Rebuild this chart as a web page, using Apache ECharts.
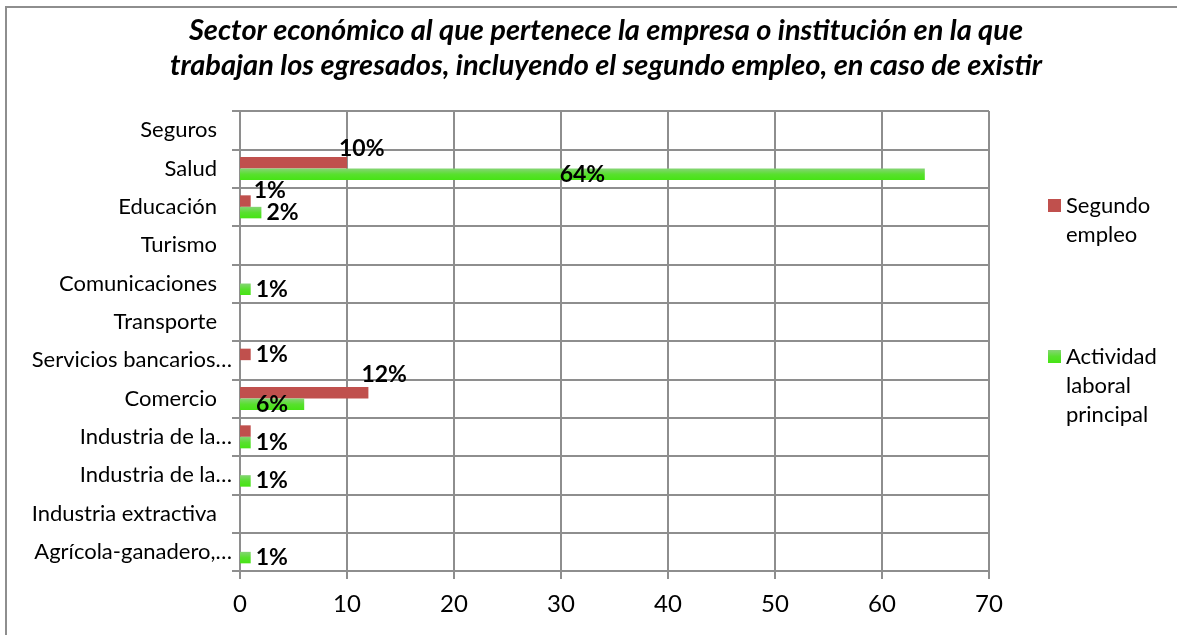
<!DOCTYPE html>
<html>
<head>
<meta charset="utf-8">
<script src="https://cdn.jsdelivr.net/npm/echarts@6/dist/echarts.min.js"></script>
<style>
html, body { margin: 0; padding: 0; background: #fff; }
#chart { width: 1177px; height: 635px; }
</style>
</head>
<body>
<div id="chart"></div>
<script>
// categorias de abajo hacia arriba, como en el grafico original
var sectores = ['Agrícola-ganadero,…', 'Industria extractiva', 'Industria de la…', 'Industria de la…',
  'Comercio', 'Servicios bancarios…', 'Transporte', 'Comunicaciones', 'Turismo', 'Educación', 'Salud', 'Seguros'];
var segundoEmpleo = [0, 0, 0, 1, 12, 1, 0, 0, 0, 1, 10, 0];
var actividadPrincipal = [1, 0, 1, 1, 6, 0, 0, 1, 0, 2, 64, 0];
var ejeX = [0, 10, 20, 30, 40, 50, 60, 70];

var FONT = 'Lato, "Open Sans", sans-serif';
var gris = '#8e8e8e';
var rojo = '#c0504d';
var verde = new echarts.graphic.LinearGradient(0, 0, 0, 1, [
  { offset: 0, color: '#86d476' },
  { offset: 0.5, color: '#58e02e' },
  { offset: 1, color: '#46e414' }
]);

// ajustes de etiquetas (imitan la colocacion manual de Excel)
var etiquetasRojo = {
  10: { position: 'right', offset: [-13, -14] },
  9: { position: 'right', offset: [-2, -11] },
  4: { position: 'right', offset: [-12, -18] },
  3: { show: false }
};
var etiquetasVerde = {
  10: { position: 'inside' },
  4: { position: 'inside' }
};

function armarDatos(valores, ajustes) {
  return valores.map(function (v, i) {
    if (!v) return '-';
    var item = { value: v };
    if (ajustes[i]) item.label = ajustes[i];
    return item;
  });
}

var etiqueta = {
  show: true,
  position: 'right',
  distance: 5,
  color: '#000',
  fontFamily: FONT,
  fontWeight: 'bold',
  fontSize: 23,
  formatter: function (p) { return p.value + '%'; }
};

// la primera linea del texto de leyenda queda a la altura del icono
function textoLeyenda(n) {
  var partes = n.split(' ');
  var relleno = [];
  for (var i = 1; i < partes.length; i++) relleno.push(' ');
  return relleno.concat(partes).join('\n');
}

var chart = echarts.init(document.getElementById('chart'));
chart.setOption({
  animation: false,
  backgroundColor: '#fff',
  title: {
    text: 'Sector económico al que pertenece la empresa o institución en la que\ntrabajan los egresados, incluyendo el segundo empleo, en caso de existir',
    left: 606,
    top: 13,
    padding: 0,
    textAlign: 'center',
    textStyle: {
      fontFamily: FONT,
      fontSize: 29,
      fontWeight: 'bold',
      fontStyle: 'italic',
      color: '#000',
      lineHeight: 35
    }
  },
  graphic: [{
    type: 'rect',
    shape: { x: 6, y: 7, width: 1300, height: 800 },
    style: { fill: 'none', stroke: gris, lineWidth: 2 },
    silent: true
  }],
  legend: [{
    data: ['Segundo empleo'],
    orient: 'vertical',
    left: 1048,
    top: 162,
    padding: 0,
    itemWidth: 13,
    itemHeight: 13,
    icon: 'rect',
    formatter: textoLeyenda,
    textStyle: { fontFamily: FONT, fontSize: 22, color: '#000', lineHeight: 29 }
  }, {
    data: ['Actividad laboral principal'],
    orient: 'vertical',
    left: 1048,
    top: 284,
    padding: 0,
    itemWidth: 13,
    itemHeight: 13,
    icon: 'rect',
    formatter: textoLeyenda,
    textStyle: { fontFamily: FONT, fontSize: 22, color: '#000', lineHeight: 29 }
  }],
  grid: { left: 240, right: 188, top: 111, bottom: 64, containLabel: false },
  xAxis: {
    type: 'value',
    min: ejeX[0],
    max: ejeX[ejeX.length - 1],
    interval: 10,
    axisLine: { show: true, lineStyle: { color: gris, width: 2 } },
    axisTick: { show: true, length: 8, lineStyle: { color: gris, width: 2 } },
    splitLine: { show: true, lineStyle: { color: gris, width: 2 } },
    axisLabel: { fontFamily: FONT, fontSize: 24, color: '#000', margin: 21 }
  },
  yAxis: {
    type: 'category',
    data: sectores,
    axisLine: { show: true, lineStyle: { color: gris, width: 2 } },
    axisTick: { show: true, length: 8, lineStyle: { color: gris, width: 2 } },
    splitLine: { show: true, lineStyle: { color: gris, width: 2 } },
    axisLabel: {
      fontFamily: FONT, fontSize: 22, color: '#000', margin: 8, interval: 0,
      // los nombres recortados llegan mas cerca del eje, como en Excel
      formatter: function (v) { return v.slice(-1) === '…' ? v : v + '{s|}'; },
      rich: { s: { width: 15 } }
    }
  },
  series: [{
    name: 'Segundo empleo',
    type: 'bar',
    data: armarDatos(segundoEmpleo, etiquetasRojo),
    itemStyle: { color: rojo },
    barGap: '0%',
    barCategoryGap: '40%',
    label: etiqueta
  }, {
    name: 'Actividad laboral principal',
    type: 'bar',
    data: armarDatos(actividadPrincipal, etiquetasVerde),
    itemStyle: { color: verde },
    barGap: '0%',
    barCategoryGap: '40%',
    label: etiqueta
  }]
});
</script>
</body>
</html>
